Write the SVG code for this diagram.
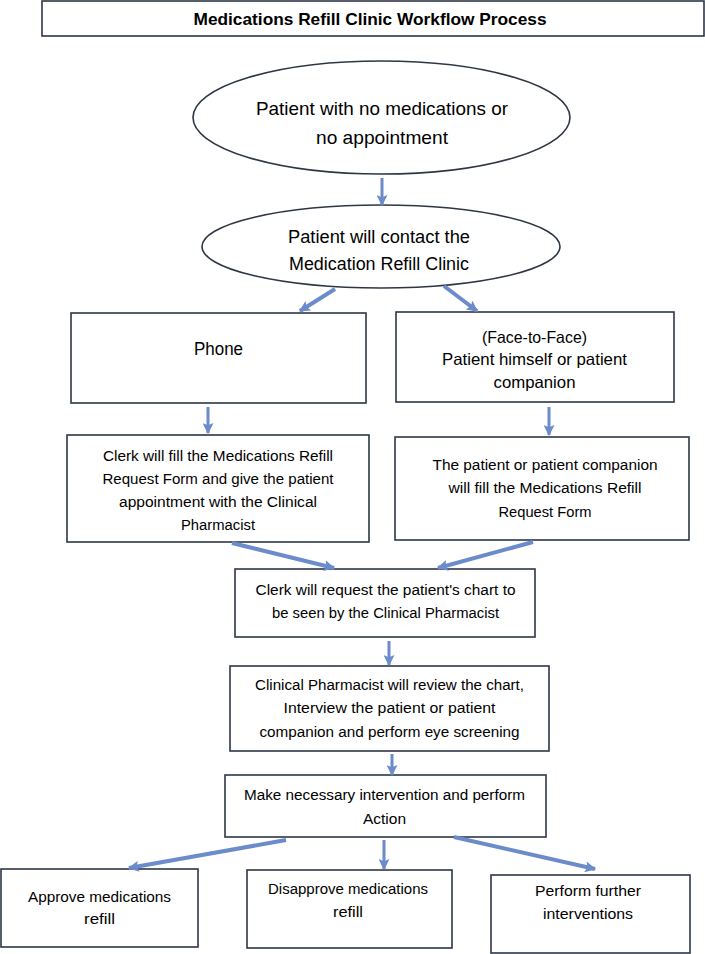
<svg xmlns="http://www.w3.org/2000/svg" width="705" height="954" viewBox="0 0 705 954">
<style>
.n{fill:#fff;stroke:#2e3646;stroke-width:1.6}
.t{font-family:"Liberation Sans",Arial,sans-serif;fill:#000;text-anchor:middle}
.b{font-size:15.5px}
.c{stroke:#6b8bcb;stroke-width:3;fill:none;marker-end:url(#ah)}
.w{stroke-width:4}
</style>
<defs>
<marker id="ah" viewBox="0 0 10 10" refX="9" refY="5" markerWidth="11" markerHeight="11" markerUnits="userSpaceOnUse" orient="auto">
<path d="M0,0 L10,5 L0,10 L2,5 Z" fill="#6b8bcb"/>
</marker>
</defs>
<rect width="705" height="954" fill="#fff"/>
<g id="title">
<rect class="n" x="42" y="1" width="662" height="35"/>
<text class="t" x="370" y="24.5" font-size="16.5" font-weight="bold" textLength="353" lengthAdjust="spacingAndGlyphs">Medications Refill Clinic Workflow Process</text>
</g>
<g id="start">
<ellipse class="n" cx="381.5" cy="117.5" rx="188.5" ry="56.5"/>
<text class="t" x="382" y="115" font-size="19" textLength="252" lengthAdjust="spacingAndGlyphs">Patient with no medications or</text>
<text class="t" x="382" y="144" font-size="19" textLength="132" lengthAdjust="spacingAndGlyphs">no appointment</text>
</g>
<g id="contact">
<ellipse class="n" cx="381" cy="246.5" rx="179" ry="41.5"/>
<text class="t" x="379" y="242.5" font-size="17.5" textLength="182" lengthAdjust="spacingAndGlyphs">Patient will contact the</text>
<text class="t" x="379" y="269.5" font-size="17.5" textLength="180" lengthAdjust="spacingAndGlyphs">Medication Refill Clinic</text>
</g>
<g id="phone">
<rect class="n" x="71" y="313" width="295" height="90"/>
<text class="t" x="218.5" y="354.5" font-size="18" textLength="49" lengthAdjust="spacingAndGlyphs">Phone</text>
</g>
<g id="face">
<rect class="n" x="396" y="312" width="278" height="90"/>
<text class="t" x="534.5" y="343" font-size="16.5" textLength="105" lengthAdjust="spacingAndGlyphs">(Face-to-Face)</text>
<text class="t" x="534.5" y="365" font-size="16.5" textLength="185" lengthAdjust="spacingAndGlyphs">Patient himself or patient</text>
<text class="t" x="534.5" y="388" font-size="16.5" textLength="82" lengthAdjust="spacingAndGlyphs">companion</text>
</g>
<g id="clerkfill">
<rect class="n" x="67" y="435" width="302" height="107"/>
<text class="t b" x="218" y="461" textLength="230" lengthAdjust="spacingAndGlyphs">Clerk will fill the Medications Refill</text>
<text class="t b" x="218" y="484" textLength="231" lengthAdjust="spacingAndGlyphs">Request Form and give the patient</text>
<text class="t b" x="218" y="507" textLength="198" lengthAdjust="spacingAndGlyphs">appointment with the Clinical</text>
<text class="t b" x="218" y="530" textLength="74" lengthAdjust="spacingAndGlyphs">Pharmacist</text>
</g>
<g id="patientfill">
<rect class="n" x="395" y="437" width="294" height="103"/>
<text class="t b" x="545" y="470" textLength="225" lengthAdjust="spacingAndGlyphs">The patient or patient companion</text>
<text class="t b" x="545" y="493" textLength="193" lengthAdjust="spacingAndGlyphs">will fill the Medications Refill</text>
<text class="t b" x="545" y="517" textLength="93" lengthAdjust="spacingAndGlyphs">Request Form</text>
</g>
<g id="chart">
<rect class="n" x="235" y="569" width="300" height="68"/>
<text class="t b" x="385.5" y="595" textLength="260" lengthAdjust="spacingAndGlyphs">Clerk will request the patient's chart to</text>
<text class="t b" x="385.5" y="618" textLength="227" lengthAdjust="spacingAndGlyphs">be seen by the Clinical Pharmacist</text>
</g>
<g id="review">
<rect class="n" x="230" y="666" width="319" height="85"/>
<text class="t b" x="389.5" y="690" textLength="269" lengthAdjust="spacingAndGlyphs">Clinical Pharmacist will review the chart,</text>
<text class="t b" x="389.5" y="713" textLength="212" lengthAdjust="spacingAndGlyphs">Interview the patient or patient</text>
<text class="t b" x="389.5" y="737" textLength="260" lengthAdjust="spacingAndGlyphs">companion and perform eye screening</text>
</g>
<g id="action">
<rect class="n" x="225" y="775" width="321" height="62"/>
<text class="t b" x="384.5" y="800" textLength="281" lengthAdjust="spacingAndGlyphs">Make necessary intervention and perform</text>
<text class="t b" x="384.5" y="824" textLength="43" lengthAdjust="spacingAndGlyphs">Action</text>
</g>
<g id="approve">
<rect class="n" x="1" y="869" width="197" height="78"/>
<text class="t b" x="99.5" y="902" textLength="143" lengthAdjust="spacingAndGlyphs">Approve medications</text>
<text class="t b" x="99.5" y="924" textLength="31" lengthAdjust="spacingAndGlyphs">refill</text>
</g>
<g id="disapprove">
<rect class="n" x="247" y="870" width="205" height="78"/>
<text class="t b" x="348" y="894" textLength="160" lengthAdjust="spacingAndGlyphs">Disapprove medications</text>
<text class="t b" x="348" y="917" textLength="30" lengthAdjust="spacingAndGlyphs">refill</text>
</g>
<g id="further">
<rect class="n" x="491" y="875" width="199" height="78"/>
<text class="t b" x="588" y="896" textLength="106" lengthAdjust="spacingAndGlyphs">Perform further</text>
<text class="t b" x="588" y="919" textLength="90" lengthAdjust="spacingAndGlyphs">interventions</text>
</g>
<g id="connectors">
<line class="c" x1="382" y1="178" x2="382" y2="205"/>
<line class="c w" x1="335" y1="289" x2="300" y2="311"/>
<line class="c w" x1="444" y1="286" x2="477" y2="311"/>
<line class="c" x1="208" y1="407" x2="208" y2="433"/>
<line class="c" x1="549" y1="407" x2="549" y2="435"/>
<line class="c w" x1="232" y1="543" x2="334" y2="568"/>
<line class="c w" x1="533" y1="542" x2="438" y2="568"/>
<line class="c" x1="389" y1="641" x2="389" y2="665"/>
<line class="c" x1="392" y1="754" x2="392" y2="775"/>
<line class="c w" x1="286" y1="840" x2="129" y2="868"/>
<line class="c" x1="384" y1="840" x2="384" y2="869"/>
<line class="c w" x1="454" y1="837" x2="595" y2="869"/>
</g>
</svg>
